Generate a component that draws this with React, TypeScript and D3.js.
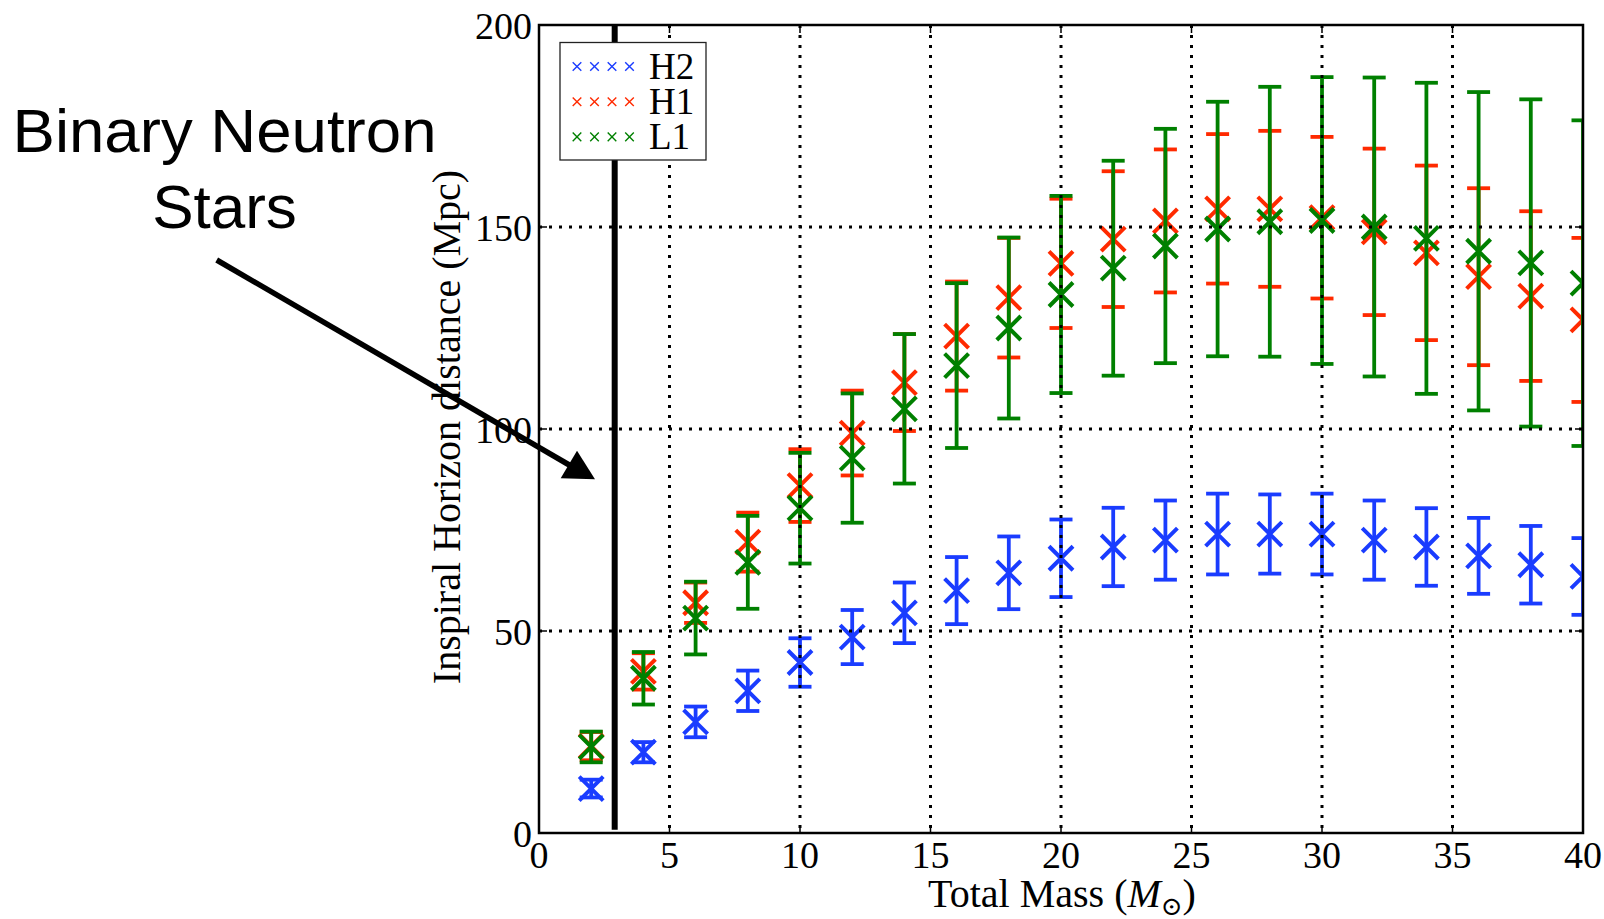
import React from "react";
import * as d3 from "d3";

const masses = [2, 4, 6, 8, 10, 12, 14, 16, 18, 20, 22, 24, 26, 28, 30, 32, 34, 36, 38, 40];
const h2Values = [11, 20, 27.5, 35.2, 42.2, 48.5, 54.5, 60, 64.4, 68, 70.8, 72.5, 74, 74, 74, 72.5, 70.8, 68.6, 66.4, 63.5];
const h2Errors = [2.2, 2.5, 3.8, 5, 6, 6.7, 7.5, 8.3, 9, 9.6, 9.7, 9.8, 10, 9.8, 10, 9.8, 9.6, 9.4, 9.6, 9.5];
const h1Values = [21.5, 40, 57, 72, 86, 99, 111.5, 123, 132.5, 141, 147, 151.5, 154.5, 154.5, 152.3, 148.8, 143.6, 137.7, 132.9, 127];
const h1Errors = [3.5, 4.5, 5, 7.3, 9, 10.5, 12, 13.5, 14.8, 16, 16.8, 17.7, 18.5, 19.3, 20, 20.6, 21.6, 21.9, 21, 20.3];
const l1Values = [21.3, 38.3, 53.2, 67, 80.4, 92.8, 105, 115.7, 125, 133.3, 139.8, 145.3, 149.5, 151.3, 151.6, 150, 147.2, 144, 141.1, 136.1];
const l1Errors = [3.8, 6.5, 9, 11.5, 13.7, 16, 18.5, 20.4, 22.4, 24.4, 26.6, 29, 31.5, 33.4, 35.5, 37, 38.5, 39.4, 40.5, 40.3];
const seriesNames = ["H2", "H1", "L1"];
const seriesColors = ["#1a3cff", "#ff2a00", "#008000"];
const xTicks = [0, 5, 10, 15, 20, 25, 30, 35, 40];
const yTicks = [0, 50, 100, 150, 200];
const bnsMass = 2.9;

const W = 1604, H = 919;
const L = 539, R = 1583, T = 25, B = 833;
const serif = "'Liberation Serif', 'DejaVu Serif', serif";
const sans = "'Liberation Sans', Arial, sans-serif";

export default function App() {
  const x = d3.scaleLinear().domain([0, 40]).range([L, R]);
  const y = d3.scaleLinear().domain([0, 200]).range([B, T]);
  const series = [
    { name: seriesNames[0], color: seriesColors[0], v: h2Values, e: h2Errors },
    { name: seriesNames[1], color: seriesColors[1], v: h1Values, e: h1Errors },
    { name: seriesNames[2], color: seriesColors[2], v: l1Values, e: l1Errors },
  ];
  const ms = 12;
  const cap = 11.5;
  const xPath = (cx: number, cy: number, s: number) =>
    `M${cx - s},${cy - s}L${cx + s},${cy + s}M${cx - s},${cy + s}L${cx + s},${cy - s}`;

  const ax0 = 216.7, ay0 = 260, ax1 = 571, ay1 = 466;
  const head = "M577,450.7L560.7,478.3L595,479.3Z";

  return (
    <svg width={W} height={H} style={{ position: "absolute", left: 0, top: 0, background: "#fff" }}>
      <defs>
        <clipPath id="plotclip">
          <rect x={L} y={T} width={R - L} height={B - T} />
        </clipPath>
      </defs>
      <rect x={0} y={0} width={W} height={H} fill="#fff" />
      <g clipPath="url(#plotclip)">
        <line x1={x(bnsMass)} x2={x(bnsMass)} y1={y(200)} y2={y(0.8)} stroke="#000" strokeWidth={6} />
        {series.map((s) => (
          <g key={s.name}>
            {masses.map((m, i) => {
              const cx = x(m);
              const y0 = y(s.v[i] - s.e[i]);
              const y1 = y(s.v[i] + s.e[i]);
              return (
                <g key={i} stroke={s.color} fill="none">
                  <line x1={cx} x2={cx} y1={y0} y2={y1} strokeWidth={3.8} />
                  <line x1={cx - cap} x2={cx + cap} y1={y0} y2={y0} strokeWidth={3.8} />
                  <line x1={cx - cap} x2={cx + cap} y1={y1} y2={y1} strokeWidth={3.8} />
                  <path d={xPath(cx, y(s.v[i]), ms)} strokeWidth={4} />
                </g>
              );
            })}
          </g>
        ))}
        {xTicks.slice(1, -1).map((t) => (
          <line key={"gx" + t} x1={x(t)} x2={x(t)} y1={T} y2={B} stroke="#000" strokeWidth={3} strokeDasharray="3,7" />
        ))}
        {yTicks.slice(1, -1).map((t) => (
          <line key={"gy" + t} x1={L} x2={R} y1={y(t)} y2={y(t)} stroke="#000" strokeWidth={3} strokeDasharray="3,7" />
        ))}
      </g>
      {xTicks.map((t) => (
        <g key={"tx" + t} stroke="#000" strokeWidth={1.5}>
          <line x1={x(t)} x2={x(t)} y1={B} y2={B - 8} />
          <line x1={x(t)} x2={x(t)} y1={T} y2={T + 8} />
        </g>
      ))}
      {yTicks.map((t) => (
        <g key={"ty" + t} stroke="#000" strokeWidth={1.5}>
          <line x1={L} x2={L + 8} y1={y(t)} y2={y(t)} />
          <line x1={R} x2={R - 8} y1={y(t)} y2={y(t)} />
        </g>
      ))}
      <rect x={L} y={T} width={R - L} height={B - T} fill="none" stroke="#000" strokeWidth={2.5} />
      {xTicks.map((t) => (
        <text key={"lx" + t} x={x(t)} y={868} textAnchor="middle" fontFamily={serif} fontSize={38}>
          {t}
        </text>
      ))}
      {yTicks.map((t) => (
        <text key={"ly" + t} x={532} y={y(t) + 14} textAnchor="end" fontFamily={serif} fontSize={38}>
          {t}
        </text>
      ))}
      <text x={1062} y={907} textAnchor="middle" fontFamily={serif} fontSize={40}>
        Total Mass (<tspan fontStyle="italic">M</tspan>
        <tspan fontSize={26} dy={8}>⊙</tspan>
        <tspan dy={-8}>)</tspan>
      </text>
      <text
        transform={`translate(460,427) rotate(-90)`}
        textAnchor="middle"
        fontFamily={serif}
        fontSize={40}
      >
        Inspiral Horizon distance (Mpc)
      </text>
      <rect x={560} y={42.5} width={146} height={117.5} fill="#fff" stroke="#222" strokeWidth={1.3} />
      {series.map((s, k) => {
        const ry = 66.5 + k * 35.2;
        return (
          <g key={"lg" + s.name}>
            {[577, 594.5, 612, 629.5].map((lx, j) => (
              <path key={j} d={xPath(lx, ry, 4.3)} stroke={s.color} strokeWidth={1.4} fill="none" />
            ))}
            <text x={649} y={ry + 12} fontFamily={serif} fontSize={37}>
              {s.name}
            </text>
          </g>
        );
      })}
      <text x={224.5} y={152} textAnchor="middle" fontFamily={sans} fontSize={62} textLength={424} lengthAdjust="spacingAndGlyphs">
        Binary Neutron
      </text>
      <text x={224.5} y={228} textAnchor="middle" fontFamily={sans} fontSize={62}>
        Stars
      </text>
      <line x1={ax0} y1={ay0} x2={ax1} y2={ay1} stroke="#000" strokeWidth={5.5} />
      <path d={head} fill="#000" />
    </svg>
  );
}
